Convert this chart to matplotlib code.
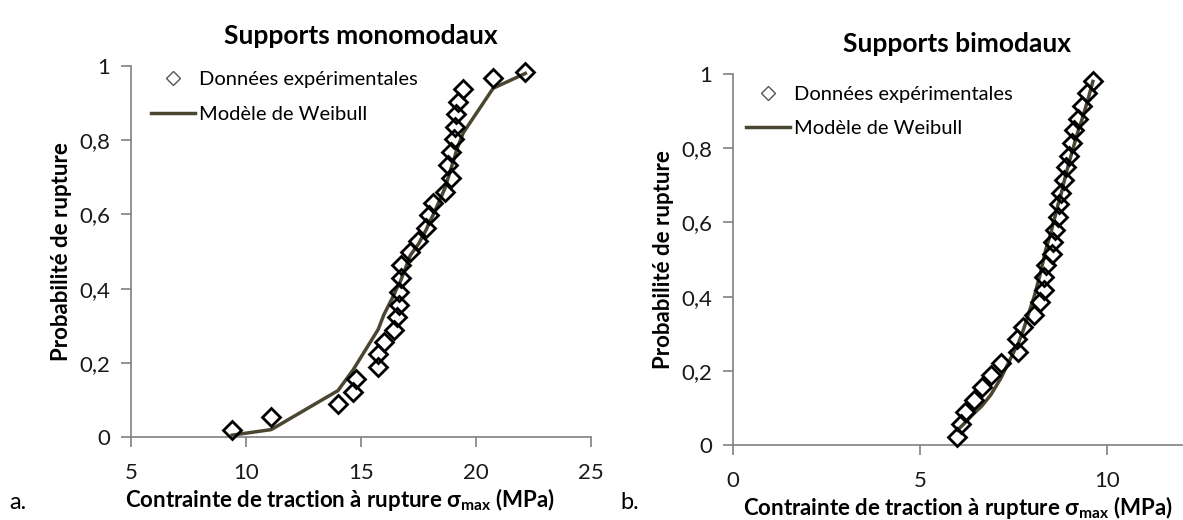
import matplotlib
matplotlib.use('Agg')
import matplotlib.pyplot as plt
from matplotlib.ticker import FuncFormatter

plt.rcParams['font.family'] = ['Lato', 'DejaVu Sans']
plt.rcParams['mathtext.fontset'] = 'custom'
plt.rcParams['mathtext.rm'] = 'Lato'

# --- a. supports monomodaux ---
mono_x = [9.4, 11.1, 14.0, 14.65, 14.8, 15.75, 15.75, 16.0, 16.45, 16.55,
          16.65, 16.65, 16.75, 16.75, 17.15, 17.5, 17.85, 17.95, 18.15, 18.65,
          18.9, 18.8, 18.9, 19.05, 19.1, 19.15, 19.2, 19.45, 20.75, 22.15]
mono_p = [0.02, 0.055, 0.089, 0.12, 0.156, 0.19, 0.224, 0.255, 0.288, 0.323,
          0.356, 0.392, 0.428, 0.464, 0.498, 0.528, 0.563, 0.598, 0.63, 0.661,
          0.697, 0.733, 0.768, 0.802, 0.836, 0.87, 0.904, 0.937, 0.968, 0.985]
mono_fit_x = [9.4, 11.1, 14.0, 14.65, 14.8, 15.75, 16.0, 16.45, 16.55, 16.65,
              16.75, 17.15, 17.5, 17.85, 17.95, 18.15, 18.65, 18.8, 18.9, 19.05,
              19.15, 19.2, 19.45, 20.75, 22.15]
mono_fit_p = [0.005, 0.02, 0.125, 0.18, 0.195, 0.29, 0.33, 0.385, 0.40, 0.41,
              0.425, 0.49, 0.52, 0.56, 0.575, 0.60, 0.67, 0.70, 0.72, 0.75,
              0.77, 0.78, 0.82, 0.94, 0.98]

# --- b. supports bimodaux ---
bi_x = [6.0, 6.1, 6.2, 6.44, 6.65, 6.89, 7.16, 7.63, 7.6, 7.76,
        8.05, 8.21, 8.3, 8.32, 8.37, 8.52, 8.56, 8.62, 8.68, 8.72,
        8.78, 8.85, 8.9, 8.98, 9.05, 9.12, 9.22, 9.32, 9.47, 9.62]
bi_p = [0.021, 0.057, 0.09, 0.121, 0.156, 0.189, 0.22, 0.252, 0.285, 0.317,
        0.35, 0.385, 0.418, 0.452, 0.485, 0.515, 0.548, 0.58, 0.615, 0.65,
        0.68, 0.715, 0.75, 0.78, 0.815, 0.85, 0.88, 0.915, 0.95, 0.98]
bi_fit_x = [6.0, 6.1, 6.2, 6.44, 6.65, 6.89, 7.16, 7.6, 7.63, 7.76,
            8.05, 8.21, 8.3, 8.32, 8.37, 8.52, 8.56, 8.62, 8.68, 8.72,
            8.78, 8.85, 8.9, 8.98, 9.05, 9.12, 9.22, 9.32, 9.47, 9.62]
bi_fit_p = [0.04, 0.05, 0.06, 0.085, 0.105, 0.135, 0.18, 0.27, 0.275, 0.31,
            0.40, 0.46, 0.50, 0.51, 0.53, 0.58, 0.60, 0.62, 0.645, 0.66,
            0.68, 0.71, 0.73, 0.76, 0.785, 0.81, 0.845, 0.875, 0.925, 0.98]

line_col = '#4b4632'
axis_col = '#808080'
xlabel = r'Contrainte de traction à rupture σ$_{\mathregular{max}}$ (MPa)'

fig = plt.figure(figsize=(11.83, 5.2), dpi=100)
ax1 = fig.add_axes([0.1107, 0.1596, 0.3888, 0.7135])
ax2 = fig.add_axes([0.6196, 0.1442, 0.3795, 0.7135])

comma = FuncFormatter(lambda v, pos: ('%g' % v).replace('.', ','))

panels = [
    (ax1, mono_x, mono_p, mono_fit_x, mono_fit_p, (5, 25), [5, 10, 15, 20, 25], 'Supports monomodaux'),
    (ax2, bi_x, bi_p, bi_fit_x, bi_fit_p, (0, 12), [0, 5, 10], 'Supports bimodaux'),
]
for ax, x, p, fx, fp, xl, xt, title in panels:
    ax.plot(x, p, linestyle='none', marker='D', markersize=9.5, markerfacecolor='none',
            markeredgecolor='black', markeredgewidth=2, zorder=3, clip_on=False)
    ax.plot(fx, fp, color=line_col, lw=2.5, zorder=2, clip_on=False)
    ax.set_xlim(*xl)
    ax.set_ylim(0, 1)
    ax.set_xticks(xt)
    ax.set_yticks([0, 0.2, 0.4, 0.6, 0.8, 1])
    ax.yaxis.set_major_formatter(comma)
    for s in ['top', 'right']:
        ax.spines[s].set_visible(False)
    for s in ['left', 'bottom']:
        ax.spines[s].set_color(axis_col)
        ax.spines[s].set_linewidth(1.2)
    ax.tick_params(direction='out', length=7, width=1.2, color=axis_col,
                   labelsize=16, labelcolor='#1a1a1a', pad=8)
    ax.tick_params(axis='x', pad=12)
    ax.set_ylabel('Probabilité de rupture', fontsize=16, fontweight='bold', labelpad=5)
    ax.set_xlabel(xlabel, fontsize=16, fontweight='bold', labelpad=2)
    ax.set_title(title, fontsize=19, fontweight='bold', pad=16)

# x label of panel a sits a bit left of centre in the original
ax1.xaxis.label.set_x(0.455)

# legends (Excel-like, no frame)
for ax, bx, by in [(ax1, 0.017, 1.018), (ax2, 0.001, 1.0)]:
    h1, = ax.plot([], [], linestyle='none', marker='D', markersize=7, markerfacecolor='none',
                  markeredgecolor='#555555', markeredgewidth=1)
    h2, = ax.plot([], [], color=line_col, lw=2.5)
    ax.legend([h1, h2], ['Données expérimentales', 'Modèle de Weibull'],
              loc='upper left', bbox_to_anchor=(bx, by), frameon=False,
              fontsize=14.5, handlelength=2.2, handletextpad=0.2, labelspacing=0.85,
              borderaxespad=0.2)

fig.text(0.008, 0.022, 'a.', fontsize=17)
fig.text(0.524, 0.022, 'b.', fontsize=17)

plt.savefig('out.png', dpi=100)
